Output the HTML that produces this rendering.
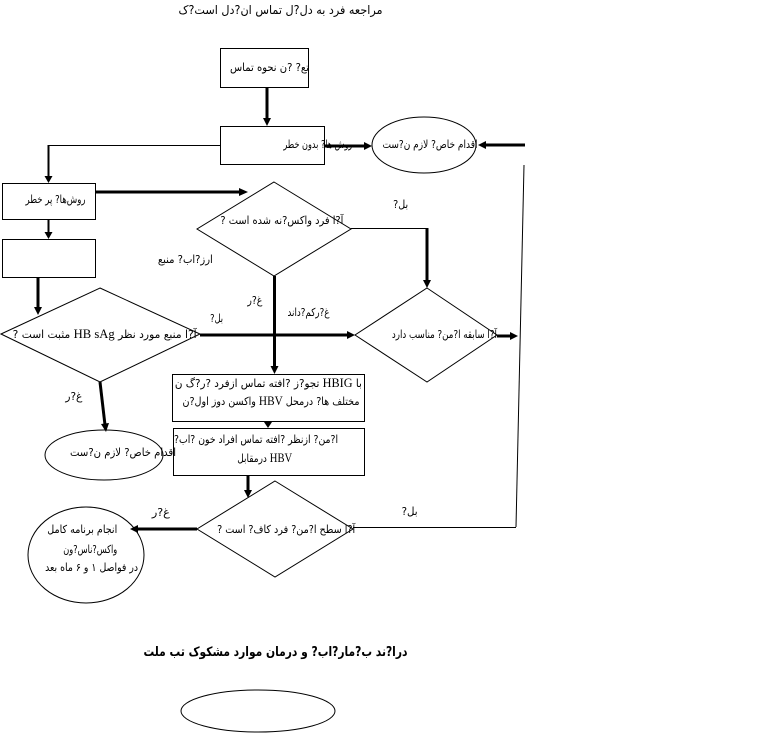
<!DOCTYPE html>
<html><head><meta charset="utf-8">
<style>
html,body{margin:0;padding:0;background:#fff;}
#c{position:relative;width:778px;height:736px;overflow:hidden;background:#fff;}
svg{position:absolute;left:0;top:0;}
.t{position:absolute;height:14px;line-height:14px;display:flex;justify-content:center;align-items:center;white-space:nowrap;font-family:"DejaVu Sans",sans-serif;font-size:11px;color:#000;}
.t span{display:inline-block;transform-origin:50% 50%;white-space:nowrap;}
.s{font-family:"Liberation Serif",serif;font-size:13px;}
</style></head><body><div id="c">
<svg width="778" height="736" viewBox="0 0 778 736">
<g fill="none" stroke="#000" stroke-width="1">
<rect x="220.5" y="48.5" width="88" height="39"/>
<rect x="220.5" y="126.5" width="104" height="38"/>
<ellipse cx="424" cy="145" rx="52" ry="28"/>
<rect x="2.5" y="183.5" width="93" height="36"/>
<rect x="2.5" y="239.5" width="93" height="38"/>
<polygon points="274,182 351,229 274,276 197,229"/>
<polygon points="100,288 200,334 100,382 1,334"/>
<polygon points="427,288 497,335 427,382 355,335"/>
<rect x="172.5" y="374.5" width="192" height="47"/>
<rect x="173.5" y="428.5" width="191" height="47"/>
<polygon points="275,481 353,529 275,577 197,529"/>
<ellipse cx="86" cy="555" rx="58" ry="48"/>
<ellipse cx="104" cy="455" rx="59" ry="25"/>
<ellipse cx="258" cy="711" rx="77" ry="21"/>
<line x1="220" y1="145.5" x2="48" y2="145.5"/>
<line x1="524" y1="165" x2="516" y2="527"/>
<line x1="516" y1="527.5" x2="353" y2="527.5"/>
<line x1="351" y1="228.5" x2="428" y2="228.5"/>
</g>
<g stroke="#000" stroke-width="2" fill="none">
<line x1="48.5" y1="145" x2="48.5" y2="177"/>
<line x1="48.5" y1="219" x2="48.5" y2="233"/>
<line x1="268" y1="422" x2="268" y2="424"/>
</g>
<g stroke="#000" stroke-width="3" fill="none">
<line x1="267" y1="87" x2="267" y2="119"/>
<line x1="325" y1="146" x2="365" y2="146"/>
<line x1="525" y1="145" x2="484" y2="145"/>
<line x1="96" y1="192" x2="240" y2="192"/>
<line x1="38" y1="278" x2="38" y2="308"/>
<line x1="427" y1="228" x2="427" y2="281"/>
<line x1="274.5" y1="276" x2="274.5" y2="367"/>
<line x1="200" y1="335" x2="348" y2="335"/>
<line x1="497" y1="336" x2="511" y2="336"/>
<line x1="100" y1="382" x2="105" y2="425"/>
<line x1="248" y1="476" x2="248" y2="491"/>
<line x1="197" y1="529" x2="137" y2="529"/>
</g>
<g fill="#000" stroke="none">
<polygon points="263,118 271,118 267,126"/>
<polygon points="364,142 364,150 372,146"/>
<polygon points="486,141 486,149 478,145"/>
<polygon points="44.5,176 52.5,176 48.5,183"/>
<polygon points="239,188 239,196 248,192"/>
<polygon points="44.5,232 52.5,232 48.5,239"/>
<polygon points="34,307 42,307 38,315"/>
<polygon points="423,280 431,280 427,288"/>
<polygon points="270.5,366 278.5,366 274.5,374"/>
<polygon points="347,331 347,339 355,335"/>
<polygon points="510,332 510,340 518,336"/>
<polygon points="101,424 109,423 106,432"/>
<polygon points="264,422 272,422 268,428"/>
<polygon points="244,490 252,490 248,498"/>
<polygon points="138,525 138,533 130,529"/>
</g>
</svg>

<div class="t" style="left:178px;width:204px;top:3px;font-size:12px"><span dir="rtl">مراجعه فرد به دل?ل تماس ان?دل است?ک</span></div>
<div class="t" style="left:230px;width:79px;top:61px"><span dir="rtl">تع? ?ن نحوه تماس</span></div>
<div class="t" style="left:283px;width:69px;top:138px"><span dir="rtl">روش ها? بدون خطر</span></div>
<div class="t" style="left:383px;width:95px;top:138px"><span dir="rtl">اقدام خاص? لازم ن?ست</span></div>
<div class="t" style="left:26px;width:60px;top:193px"><span dir="rtl">روش‌ها? پر خطر</span></div>
<div class="t" style="left:220px;width:123px;top:214px"><span dir="rtl">آ?ا فرد واکس?نه شده است ?</span></div>
<div class="t" style="left:393px;width:15px;top:198px"><span dir="rtl">بل?</span></div>
<div class="t" style="left:158px;width:55px;top:253px"><span dir="rtl">ارز?اب? منبع</span></div>
<div class="t" style="left:247px;width:15px;top:294px"><span dir="rtl">غ?ر</span></div>
<div class="t" style="left:210px;width:13px;top:312px"><span dir="rtl">بل?</span></div>
<div class="t" style="left:287px;width:42px;top:306px"><span dir="rtl">غ?رکم?داند</span></div>
<div class="t" style="left:13px;width:184px;top:327px"><span dir="rtl">آ?ا منبع مورد نظر <b class="s" style="font-weight:normal">HB sAg</b> مثبت است ?</span></div>
<div class="t" style="left:392px;width:105px;top:328px"><span dir="rtl">آ?ا سابقه ا?من? مناسب دارد</span></div>
<div class="t" style="left:65px;width:17px;top:390px"><span dir="rtl">غ?ر</span></div>
<div class="t" style="left:70px;width:106px;top:446px"><span dir="rtl">اقدام خاص? لازم ن?ست</span></div>
<div class="t" style="left:175px;width:187px;top:376px"><span dir="rtl">با <b class="s" style="font-weight:normal">HBIG</b> تجو?ز ?افته تماس ازفرد ?ر?گ ن</span></div>
<div class="t" style="left:182px;width:177px;top:394px"><span dir="rtl">مختلف ها? درمحل <b class="s" style="font-weight:normal">HBV</b> واکسن دوز اول?ن</span></div>
<div class="t" style="left:174px;width:164px;top:433px"><span dir="rtl">ا?من? ازنظر ?افته تماس افراد خون ?اب?</span></div>
<div class="t" style="left:237px;width:55px;top:451px"><span dir="rtl"><b class="s" style="font-weight:normal">HBV</b> درمقابل</span></div>
<div class="t" style="left:152px;width:18px;top:506px"><span dir="rtl">غ?ر</span></div>
<div class="t" style="left:217px;width:138px;top:523px"><span dir="rtl">آ?ا سطح ا?من? فرد کاف? است ?</span></div>
<div class="t" style="left:47px;width:70px;top:523px"><span dir="rtl">انجام برنامه کامل</span></div>
<div class="t" style="left:63px;width:54px;top:543px"><span dir="rtl">واکس?ناس?ون</span></div>
<div class="t" style="left:45px;width:93px;top:561px"><span dir="rtl">در فواصل ۱ و ۶ ماه بعد</span></div>
<div class="t" style="left:402px;width:16px;top:505px"><span dir="rtl">بل?</span></div>
<div class="t" style="left:143px;width:264px;top:646px;font-size:13px;font-weight:bold"><span dir="rtl">درا?ند ب?مار?اب? و درمان موارد مشکوک تب ملت</span></div>
</div>
<script>
(function(){var d=document.querySelectorAll('.t');for(var i=0;i<d.length;i++){var s=d[i].firstElementChild;var w=s.getBoundingClientRect().width;var tw=d[i].clientWidth;if(w>0&&tw>0){s.style.transform='scaleX('+(tw/w)+')';}}})();
</script>
</body></html>
